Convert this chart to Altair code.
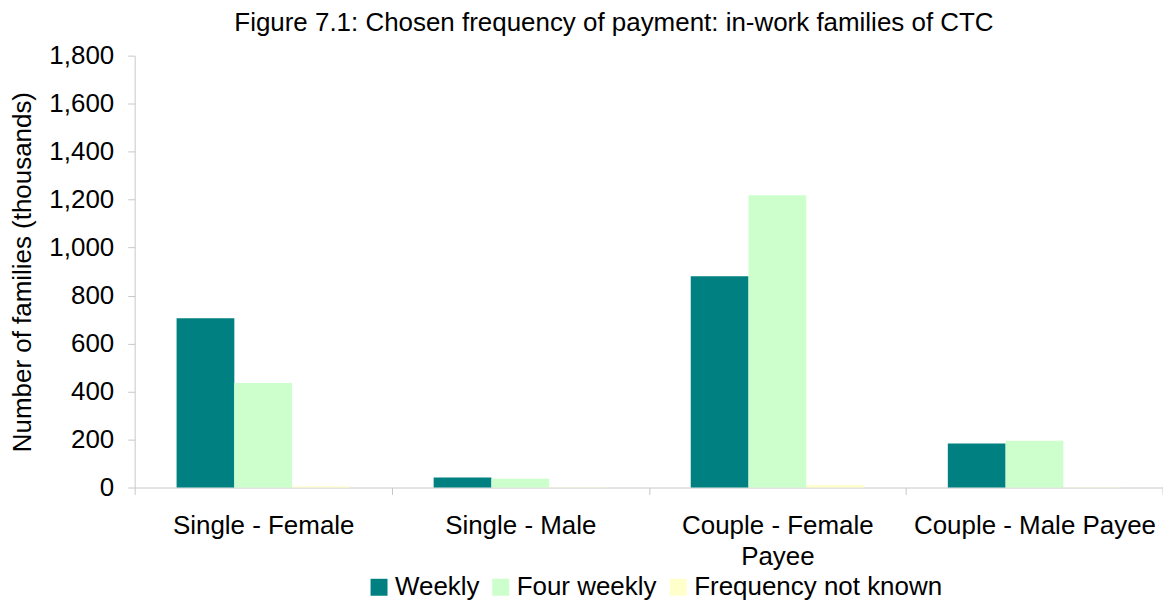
import altair as alt
import pandas as pd

categories = ["Single - Female", "Single - Male", "Couple - Female Payee", "Couple - Male Payee"]
series = ["Weekly", "Four weekly", "Frequency not known"]
weekly = [706, 42, 881, 183]
four_weekly = [436, 37, 1218, 195]
not_known = [5, 1, 10, 1]
colors = ["#008080", "#CCFFCC", "#FFFFCC"]

rows = []
for i, c in enumerate(categories):
    for s, vals in zip(series, [weekly, four_weekly, not_known]):
        rows.append({"category": c, "series": s, "value": vals[i]})
df = pd.DataFrame(rows)

FONT = "Liberation Sans"
FS = 26
W, H = 1031, 433
HALF = W / len(categories) / 2

bars = alt.Chart(df).mark_bar().encode(
    x=alt.X("category:N", sort=categories, title=None,
            scale=alt.Scale(paddingInner=0.326, paddingOuter=0.163),
            axis=alt.Axis(labelAngle=0, tickOffset=-HALF, labelOffset=HALF,
                          domainColor="#c8c8c8", tickColor="#c8c8c8", tickSize=7,
                          labelPadding=18, labelFontSize=FS, labelFont=FONT, labelColor="black",
                          labelLineHeight=31, labelBaseline="top", labelLimit=400,
                          labelExpr="datum.label == 'Couple - Female Payee' ? ['Couple - Female', 'Payee'] : datum.label")),
    xOffset=alt.XOffset("series:N", sort=series, scale=alt.Scale(paddingInner=0, paddingOuter=0)),
    y=alt.Y("value:Q", title="Number of families (thousands)",
            scale=alt.Scale(domain=[0, 1800], nice=False),
            axis=alt.Axis(values=list(range(0, 1801, 200)), format=",d", grid=False,
                          domainColor="#c8c8c8", tickColor="#c8c8c8", tickSize=7,
                          labelPadding=14, labelFontSize=FS, labelFont=FONT, labelColor="black",
                          titleFontSize=FS, titleFont=FONT, titleFontWeight="normal",
                          titleColor="black", titlePadding=13)),
    color=alt.Color("series:N", sort=series,
                    scale=alt.Scale(domain=series, range=colors),
                    legend=alt.Legend(title=None, orient="none", direction="horizontal",
                                      legendX=232, legendY=520, symbolType="square",
                                      symbolSize=289, symbolStrokeWidth=0, symbolOffset=0,
                                      labelFontSize=FS, labelFont=FONT, labelColor="black",
                                      columnPadding=8, labelOffset=3, labelLimit=400)),
)

end_tick = alt.Chart(pd.DataFrame({"a": [0]})).mark_rule(color="#c8c8c8", strokeWidth=1).encode(
    x=alt.value(W), y=alt.value(H), y2=alt.value(H + 7)
)

chart = alt.layer(bars, end_tick).properties(
    width=W, height=H,
    title=alt.TitleParams("Figure 7.1: Chosen frequency of payment: in-work families of CTC",
                          font=FONT, fontSize=FS, fontWeight="normal", color="black",
                          anchor="middle", dx=-35, offset=7),
    autosize=alt.AutoSizeParams(type="none"),
    padding={"left": 127, "top": 47, "right": 0, "bottom": 112},
).configure_view(stroke=None)

chart.save("out.html", embed_options={"renderer": "svg", "actions": False})
